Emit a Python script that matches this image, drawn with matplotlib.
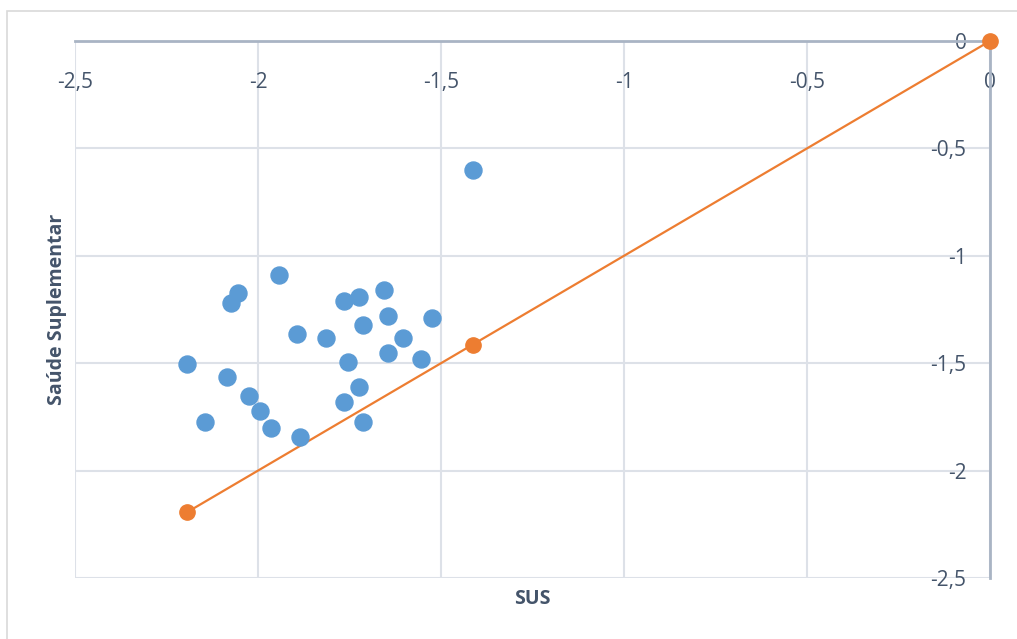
import matplotlib.pyplot as plt
from matplotlib.patches import Rectangle

# blue points: SUS (x) vs Saude Suplementar (y)
sus = [-1.413, -1.943, -2.055, -2.074, -2.194, -2.085, -2.145, -2.025, -1.995,
       -1.964, -1.885, -1.893, -1.814, -1.765, -1.724, -1.656, -1.713, -1.645,
       -1.604, -1.525, -1.754, -1.645, -1.555, -1.724, -1.765, -1.713]
saude = [-0.60, -1.089, -1.173, -1.220, -1.504, -1.564, -1.774, -1.653, -1.723,
         -1.802, -1.844, -1.364, -1.383, -1.210, -1.192, -1.159, -1.322, -1.280,
         -1.383, -1.290, -1.494, -1.453, -1.480, -1.611, -1.681, -1.774]

# orange reference line
line_x = [-2.194, -1.413, 0]
line_y = [-2.194, -1.413, 0]

ticks = [-2.5, -2, -1.5, -1, -0.5, 0]
tick_labels = ['-2,5', '-2', '-1,5', '-1', '-0,5', '0']

TXT = '#44546A'
plt.rcParams['font.family'] = ['Open Sans', 'DejaVu Sans']

fig = plt.figure(figsize=(10.17, 6.39), dpi=100)
fig.patches.append(Rectangle((7 / 1017, -0.1), 1.2, 1 - 11 / 639 + 0.1,
                             transform=fig.transFigure, fill=False,
                             edgecolor='#D9D9D9', lw=1.2))
ax = fig.add_axes([75 / 1017, 1 - 578 / 639, 915 / 1017, 537 / 639])

ax.plot(line_x, line_y, color='#ED7D31', lw=1.6, marker='o', ms=11,
        clip_on=False, zorder=3)
ax.scatter(sus, saude, s=150, color='#5B9BD5', zorder=4, clip_on=False,
           edgecolors='#5B9BD5')

ax.set_xlim(-2.5, 0)
ax.set_ylim(-2.5, 0)
ax.set_xticks(ticks)
ax.set_xticklabels(tick_labels)
ax.set_yticks(ticks)
ax.set_yticklabels(tick_labels)

ax.grid(True, color='#DDE1E8', lw=1.5)
ax.set_axisbelow(True)
for s in ['left', 'bottom']:
    ax.spines[s].set_visible(False)
for s in ['top', 'right']:
    ax.spines[s].set_color('#A9B4C4')
    ax.spines[s].set_linewidth(2)

ax.xaxis.set_ticks_position('top')
ax.yaxis.set_ticks_position('right')
ax.tick_params(axis='x', length=0, labelsize=15, labelcolor=TXT, pad=-30)
ax.tick_params(axis='y', length=0, labelsize=15, labelcolor=TXT, pad=-17)
for lb in ax.get_yticklabels():
    lb.set_horizontalalignment('right')
    lb.set_verticalalignment('center_baseline')
for lb in ax.get_xticklabels():
    lb.set_verticalalignment('center')

ax.xaxis.set_label_position('bottom')
ax.yaxis.set_label_position('left')
ax.set_xlabel('SUS', fontsize=14, fontweight='bold', color=TXT, labelpad=8)
ax.set_ylabel('Saúde Suplementar', fontsize=14, fontweight='bold', color=TXT,
              labelpad=6)

fig.savefig('out.png', dpi=100)
